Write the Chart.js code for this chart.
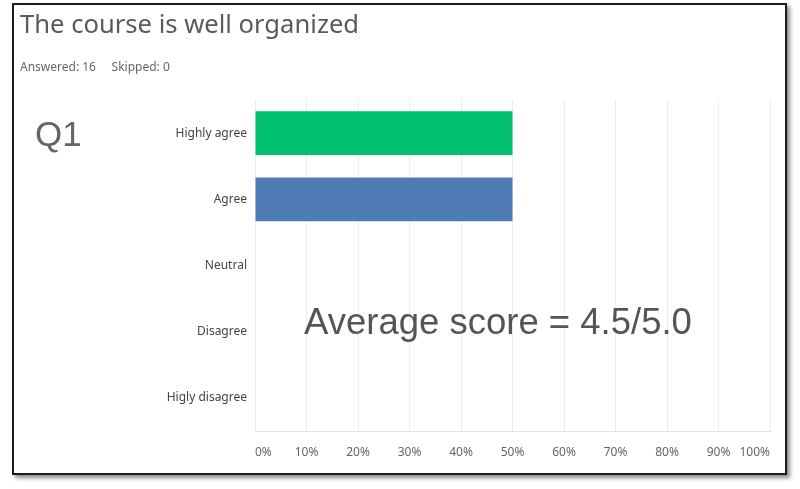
<!DOCTYPE html>
<html>
<head>
<meta charset="utf-8">
<script src="https://cdn.jsdelivr.net/npm/chart.js@4/dist/chart.umd.min.js"></script>
<style>
  body { margin:0; background:#fff; width:800px; height:489px; position:relative; overflow:hidden; }
  #frame { position:absolute; left:12px; top:3px; width:771px; height:468px; border:2px solid #1c1c1c; box-shadow:3px 3px 4px rgba(0,0,0,0.45); }
  .txt { position:absolute; white-space:nowrap; }
  #title { left:20px; top:6px; font-family:"Noto Sans"; font-size:25.6px; color:#5a5a5a; }
  #sub { left:20px; top:58px; font-family:"Noto Sans"; font-size:12px; color:#666; }
  #q1 { left:35px; top:114px; font-family:"Liberation Sans"; font-size:35px; color:#666; }
  #avg { left:304px; top:301px; font-family:"Liberation Sans"; font-size:36.5px; color:#555; }
  canvas { position:absolute; left:0; top:0; }
</style>
</head>
<body>
<div id="frame"></div>
<canvas id="c" width="800" height="489"></canvas>
<div class="txt" id="title">The course is well organized</div>
<div class="txt" id="sub">Answered: 16&nbsp;&nbsp;&nbsp;&nbsp;&nbsp;Skipped: 0</div>
<div class="txt" id="q1">Q1</div>
<div class="txt" id="avg">Average score = 4.5/5.0</div>
<script>
// DATA
let categories = ['Highly agree', 'Agree', 'Neutral', 'Disagree', 'Higly disagree'];
let percents = [50, 50, 0, 0, 0];
let barColors = ['#00bf6f', '#507cb6', '#00bf6f', '#00bf6f', '#00bf6f'];
let tickValues = [0, 10, 20, 30, 40, 50, 60, 70, 80, 90, 100];

let ctx = document.getElementById('c').getContext('2d');

let chart = new Chart(ctx, {
    type: 'bar',
    data: {
        labels: categories,
        datasets: [{
            data: percents,
            backgroundColor: barColors,
            borderWidth: 0,
            categoryPercentage: 1,
            barPercentage: 0.66
        }]
    },
    options: {
        indexAxis: 'y',
        responsive: false,
        animation: false,
        devicePixelRatio: 1,
        layout: { padding: { top: 100, right: 30, left: 0, bottom: 0 } },
        plugins: { legend: { display: false }, tooltip: { enabled: false } },
        scales: {
            x: {
                min: 0,
                max: 100,
                afterBuildTicks: (axis) => { axis.ticks = tickValues.map(v => ({ value: v })); },
                afterFit: (axis) => { axis.height = 58; },
                grid: { color: '#ececec', drawTicks: false },
                border: { color: '#e2e2e2' },
                ticks: {
                    padding: 14,
                    align: 'inner',
                    color: '#666',
                    font: { family: 'Noto Sans', size: 12 },
                    callback: (v) => v + '%'
                }
            },
            y: {
                afterFit: (axis) => { axis.width = 255; },
                grid: { display: false, drawTicks: false },
                border: { display: false },
                ticks: {
                    padding: 8,
                    color: '#444',
                    font: { family: 'Noto Sans', size: 12 }
                }
            }
        }
    }
});
</script>
</body>
</html>
